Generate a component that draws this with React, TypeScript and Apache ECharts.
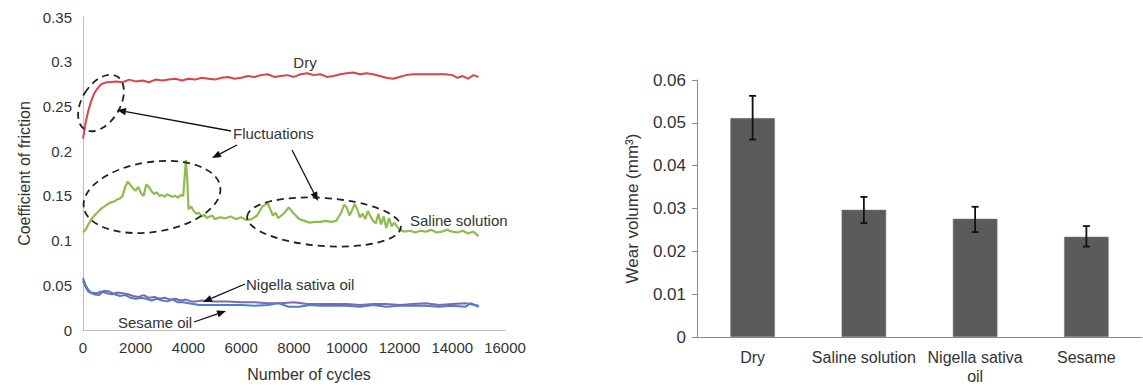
import React, { useEffect, useRef } from "react";
import * as echarts from "echarts";

// ---------- Left chart: coefficient of friction vs cycles ----------
const cycleTicks = [0, 2000, 4000, 6000, 8000, 10000, 12000, 14000, 16000];

const dryX = [0, 50, 100, 200, 300, 400, 500, 600, 700, 800, 900, 1000, 1250, 1500, 1750, 2000, 2250, 2500, 2750, 3000, 3250, 3500, 3750, 4000, 4250, 4500, 4750, 5000, 5250, 5500, 5750, 6000, 6250, 6500, 6750, 7000, 7250, 7500, 7750, 8000, 8250, 8500, 8750, 9000, 9250, 9500, 9750, 10000, 10250, 10500, 10750, 11000, 11250, 11500, 11750, 12000, 12250, 12500, 12750, 13000, 13250, 13500, 13750, 14000, 14200, 14400, 14600, 14800, 15000];
const dryY = [0.214, 0.222, 0.232, 0.245, 0.255, 0.263, 0.268, 0.272, 0.275, 0.276, 0.277, 0.277, 0.278, 0.277, 0.280, 0.278, 0.279, 0.277, 0.280, 0.279, 0.280, 0.281, 0.279, 0.281, 0.280, 0.282, 0.281, 0.280, 0.282, 0.283, 0.281, 0.282, 0.284, 0.283, 0.285, 0.286, 0.283, 0.284, 0.285, 0.283, 0.286, 0.287, 0.285, 0.286, 0.283, 0.284, 0.286, 0.287, 0.288, 0.286, 0.287, 0.286, 0.284, 0.282, 0.281, 0.283, 0.285, 0.286, 0.286, 0.286, 0.286, 0.286, 0.286, 0.285, 0.282, 0.284, 0.281, 0.285, 0.283];

const salineX = [0, 100, 200, 300, 400, 500, 600, 700, 800, 900, 1000, 1100, 1200, 1300, 1400, 1500, 1600, 1700, 1800, 1900, 2000, 2100, 2200, 2300, 2400, 2500, 2600, 2700, 2800, 2900, 3000, 3100, 3200, 3300, 3400, 3500, 3600, 3700, 3800, 3850, 3900, 3950, 4000, 4100, 4200, 4300, 4400, 4500, 4600, 4700, 4800, 4900, 5000, 5200, 5400, 5600, 5800, 6000, 6200, 6400, 6600, 6800, 7000, 7100, 7200, 7300, 7400, 7600, 7800, 8000, 8200, 8400, 8600, 8800, 9000, 9200, 9400, 9600, 9800, 9900, 10000, 10100, 10200, 10300, 10400, 10500, 10600, 10700, 10800, 10900, 11000, 11100, 11200, 11300, 11400, 11500, 11600, 11700, 11800, 12000, 12200, 12400, 12600, 12800, 13000, 13200, 13400, 13600, 13800, 14000, 14200, 14400, 14600, 14800, 15000];
const salineY = [0.109, 0.112, 0.118, 0.123, 0.127, 0.130, 0.133, 0.136, 0.138, 0.140, 0.142, 0.143, 0.144, 0.146, 0.147, 0.150, 0.160, 0.166, 0.162, 0.158, 0.156, 0.160, 0.153, 0.150, 0.163, 0.160, 0.155, 0.152, 0.154, 0.150, 0.151, 0.149, 0.152, 0.150, 0.149, 0.150, 0.148, 0.151, 0.150, 0.170, 0.190, 0.170, 0.135, 0.138, 0.133, 0.130, 0.131, 0.127, 0.129, 0.125, 0.127, 0.128, 0.124, 0.126, 0.125, 0.127, 0.124, 0.126, 0.123, 0.124, 0.128, 0.138, 0.142, 0.135, 0.128, 0.131, 0.125, 0.130, 0.137, 0.130, 0.124, 0.122, 0.120, 0.121, 0.121, 0.122, 0.121, 0.122, 0.132, 0.140, 0.137, 0.128, 0.134, 0.141, 0.135, 0.126, 0.130, 0.124, 0.133, 0.127, 0.122, 0.119, 0.130, 0.118, 0.127, 0.114, 0.125, 0.116, 0.120, 0.112, 0.110, 0.111, 0.109, 0.111, 0.110, 0.112, 0.109, 0.110, 0.112, 0.110, 0.109, 0.111, 0.108, 0.110, 0.105];

const nigellaX = [0, 100, 200, 300, 500, 700, 900, 1100, 1300, 1500, 1700, 1900, 2100, 2300, 2500, 2700, 2900, 3100, 3300, 3500, 3700, 3900, 4100, 4300, 4500, 5000, 5500, 6000, 6500, 7000, 7500, 8000, 8500, 9000, 9500, 10000, 10500, 11000, 11500, 12000, 12500, 13000, 13500, 14000, 14500, 15000];
const nigellaY = [0.058, 0.050, 0.045, 0.042, 0.041, 0.043, 0.041, 0.040, 0.042, 0.041, 0.040, 0.038, 0.037, 0.039, 0.036, 0.037, 0.035, 0.036, 0.034, 0.035, 0.033, 0.034, 0.032, 0.032, 0.033, 0.032, 0.032, 0.031, 0.031, 0.030, 0.030, 0.031, 0.029, 0.029, 0.029, 0.029, 0.028, 0.029, 0.029, 0.028, 0.029, 0.030, 0.028, 0.029, 0.030, 0.027];

const sesameX = [0, 100, 200, 400, 600, 800, 1000, 1200, 1400, 1600, 1800, 2000, 2200, 2400, 2600, 2800, 3000, 3200, 3400, 3600, 3800, 4000, 4200, 4400, 4600, 5000, 5500, 6000, 6500, 7000, 7400, 7800, 8200, 8600, 9000, 9500, 10000, 10500, 11000, 11500, 12000, 12500, 13000, 13500, 14000, 14500, 14700, 15000];
const sesameY = [0.055, 0.048, 0.043, 0.040, 0.039, 0.044, 0.043, 0.040, 0.038, 0.039, 0.036, 0.035, 0.036, 0.035, 0.033, 0.035, 0.033, 0.032, 0.034, 0.031, 0.031, 0.030, 0.029, 0.028, 0.028, 0.028, 0.028, 0.028, 0.027, 0.028, 0.030, 0.026, 0.026, 0.028, 0.027, 0.027, 0.027, 0.026, 0.028, 0.026, 0.027, 0.027, 0.027, 0.026, 0.027, 0.026, 0.030, 0.026];

// ---------- Right chart: wear volume ----------
const wearCategories = ["Dry", "Saline solution", "Nigella sativa\noil", "Sesame"];
const wearValues = [0.0511, 0.0297, 0.0276, 0.0234];
const wearErrLow = [0.0461, 0.0266, 0.0245, 0.0211];
const wearErrHigh = [0.0563, 0.0327, 0.0304, 0.0259];

const FONT = "Liberation Sans, Arial, sans-serif";
const TXT = "#333333";

const zip = (xs: number[], ys: number[]) => xs.map((x, i) => [x, ys[i]]);

function arrow(x1: number, y1: number, x2: number, y2: number) {
  const ang = Math.atan2(y2 - y1, x2 - x1);
  const len = 9, half = 3.6;
  const bx = x2 - len * Math.cos(ang), by = y2 - len * Math.sin(ang);
  const px = -Math.sin(ang) * half, py = Math.cos(ang) * half;
  return [
    { type: "line", shape: { x1, y1, x2: bx, y2: by }, style: { stroke: "#111", lineWidth: 1.3 }, z: 100 },
    { type: "polygon", shape: { points: [[x2, y2], [bx + px, by + py], [bx - px, by - py]] }, style: { fill: "#111" }, z: 100 },
  ];
}

function ellipse(cx: number, cy: number, rx: number, ry: number, rot: number) {
  return {
    type: "ellipse", x: cx, y: cy, rotation: rot,
    shape: { cx: 0, cy: 0, rx, ry },
    style: { fill: "none", stroke: "#222", lineWidth: 1.8, lineDash: [7, 5] },
    z: 100,
  };
}

function label(text: string, x: number, y: number, align = "left") {
  return {
    type: "text", x, y, z: 100,
    style: { text, fill: TXT, font: `15px ${FONT}`, align, verticalAlign: "middle" },
  };
}

export default function App() {
  const ref = useRef<HTMLDivElement>(null);
  useEffect(() => {
    const chart = echarts.init(ref.current!, undefined, { renderer: "svg" });
    const option: any = {
      animation: false,
      textStyle: { fontFamily: FONT },
      grid: [
        { left: 83, top: 17, width: 422, height: 317 },
        { left: 697, top: 80, width: 445, height: 257 },
      ],
      xAxis: [
        {
          gridIndex: 0, type: "value", min: 0, max: 16000, interval: 2000,
          name: "Number of cycles", nameLocation: "middle", nameGap: 36,
          nameTextStyle: { fontSize: 16, color: TXT, fontFamily: FONT, padding: [0, 0, 0, 30] },
          axisLine: { show: true, lineStyle: { color: "#bdbdbd", width: 1 } },
          axisTick: { show: false }, splitLine: { show: false },
          axisLabel: { fontSize: 15, color: TXT, margin: 10, formatter: (v: number) => String(v) },
        },
        {
          gridIndex: 1, type: "category", data: wearCategories,
          axisLine: { show: true, lineStyle: { color: "#8a8a8a", width: 1 } },
          axisTick: { show: false },
          axisLabel: { fontSize: 16, color: TXT, margin: 11, lineHeight: 19, interval: 0 },
        },
      ],
      yAxis: [
        {
          gridIndex: 0, type: "value", min: 0, max: 0.35, interval: 0.05,
          name: "Coefficient of friction", nameLocation: "middle", nameGap: 51,
          nameTextStyle: { fontSize: 16, color: TXT, fontFamily: FONT },
          axisLine: { show: true, lineStyle: { color: "#bdbdbd", width: 1 } },
          axisTick: { show: false }, splitLine: { show: false },
          axisLabel: { fontSize: 15, color: TXT, margin: 11 },
        },
        {
          gridIndex: 1, type: "value", min: 0, max: 0.06, interval: 0.01,
          name: "Wear volume (mm³)", nameLocation: "middle", nameGap: 56,
          nameTextStyle: { fontSize: 17, color: TXT, fontFamily: FONT },
          axisLine: { show: true, lineStyle: { color: "#8a8a8a", width: 1 } },
          axisTick: { show: true, length: 5, inside: false, lineStyle: { color: "#8a8a8a" } },
          splitLine: { show: false },
          axisLabel: { fontSize: 17, color: TXT, margin: 11 },
        },
      ],
      series: [
        { name: "Nigella sativa oil", type: "line", xAxisIndex: 0, yAxisIndex: 0, data: zip(nigellaX, nigellaY), showSymbol: false, lineStyle: { color: "#8366b0", width: 2 } },
        { name: "Sesame oil", type: "line", xAxisIndex: 0, yAxisIndex: 0, data: zip(sesameX, sesameY), showSymbol: false, lineStyle: { color: "#4a7fc9", width: 2 } },
        { name: "Saline solution", type: "line", xAxisIndex: 0, yAxisIndex: 0, data: zip(salineX, salineY), showSymbol: false, lineStyle: { color: "#8fbc4f", width: 2.2 } },
        { name: "Dry", type: "line", xAxisIndex: 0, yAxisIndex: 0, data: zip(dryX, dryY), showSymbol: false, lineStyle: { color: "#d9434b", width: 2 } },
        {
          name: "Wear volume", type: "bar", xAxisIndex: 1, yAxisIndex: 1, data: wearValues, barWidth: "40%",
          itemStyle: { color: "#5b5b5b", borderColor: "#7a7a7a", borderWidth: 0.5 },
        },
        {
          name: "Error", type: "custom", xAxisIndex: 1, yAxisIndex: 1, z: 10,
          data: wearCategories.map((_, i) => [i, wearErrLow[i], wearErrHigh[i]]),
          renderItem: (_p: any, api: any) => {
            const lo = api.coord([api.value(0), api.value(1)]);
            const hi = api.coord([api.value(0), api.value(2)]);
            const w = 3.5;
            const st = { stroke: "#111", lineWidth: 1.8 };
            return {
              type: "group",
              children: [
                { type: "line", shape: { x1: hi[0], y1: hi[1], x2: lo[0], y2: lo[1] }, style: st },
                { type: "line", shape: { x1: hi[0] - w, y1: hi[1], x2: hi[0] + w, y2: hi[1] }, style: st },
                { type: "line", shape: { x1: lo[0] - w, y1: lo[1], x2: lo[0] + w, y2: lo[1] }, style: st },
              ],
            };
          },
        },
      ],
      graphic: [
        ellipse(101, 103, 19, 31, -0.55),
        ellipse(152, 197, 69, 35, 0.15),
        ellipse(324, 222, 77, 24, -0.07),
        ...arrow(231, 131, 117, 110),
        ...arrow(237, 145, 212, 158),
        ...arrow(292, 150, 318, 201),
        ...arrow(245, 284, 203, 302),
        ...arrow(194, 322, 226, 311),
        label("Dry", 305, 62, "center"),
        label("Fluctuations", 233, 133),
        label("Saline solution", 410, 220),
        label("Nigella sativa oil", 246, 284),
        label("Sesame oil", 118, 322),
      ],
    };
    chart.setOption(option);
    return () => chart.dispose();
  }, []);
  return <div ref={ref} style={{ position: "absolute", left: 0, top: 0, width: 1143, height: 387, background: "#fff" }} />;
}
